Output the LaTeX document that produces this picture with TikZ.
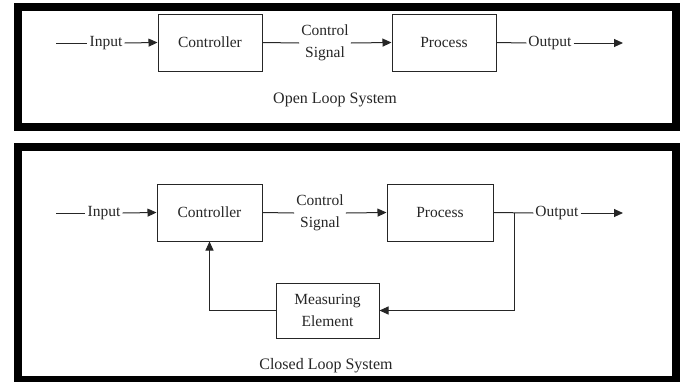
\documentclass[tikz,border=0pt]{standalone}
\usepackage{fontspec}
\setmainfont{Liberation Serif}
\usetikzlibrary{arrows.meta}
\begin{document}
\begin{tikzpicture}[x=1pt,y=-1pt,
  frame/.style={draw=black,line width=8pt},
  blk/.style={draw=black!85,line width=1pt,minimum width=#1,minimum height=57pt,inner sep=0pt,font=\fontsize{15.5}{22}\selectfont,text=black!85},
  lbl/.style={inner sep=2pt,font=\fontsize{15.5}{22}\selectfont,text=black!85,align=center},
  ttl/.style={inner sep=1pt,font=\fontsize{16}{20}\selectfont,text=black!85},
  ln/.style={draw=black!85,line width=1pt},
  arr/.style={ln,-{Triangle[length=9pt,width=8pt]}}]
\useasboundingbox (0,0) rectangle (685,381);
\fill[white] (0,0) rectangle (685,381);
% frames
\draw[frame] (18,7) rectangle (676,127);
\draw[frame] (18,147) rectangle (676,380);
% open loop
\node[blk=104pt] (ctrlA) at (210,42.5) {Controller};
\node[blk=104pt] (procA) at (444,42.5) {Process};
\coordinate (inA) at (56,43);
\node[lbl] (inlA) at (106,43) {Input};
\node[lbl] (csA) at (325,43) {Control\\Signal};
\node[lbl] (outlA) at (550,43) {Output};
\coordinate (endA) at (623,43);
\draw[ln] (inA) -- (inlA.west);
\draw[arr] (inlA.east) -- (ctrlA.west);
\draw[ln] (ctrlA.east) -- (csA.west);
\draw[arr] (csA.east) -- (procA.west);
\draw[ln] (procA.east) -- (outlA.west);
\draw[arr] (outlA.east) -- (endA);
\node[ttl] (titleA) at (335,100) {Open Loop System};
% closed loop
\node[blk=105pt] (ctrlB) at (209.5,212.5) {Controller};
\node[blk=106pt] (procB) at (440,212.5) {Process};
\node[blk=103pt,minimum height=55pt,align=center] (measB) at (327.5,310.5) {Measuring\\Element};
\coordinate (inB) at (56,213);
\node[lbl] (inlB) at (104,213) {Input};
\node[lbl] (csB) at (320,213) {Control\\Signal};
\node[lbl] (outlB) at (557,213) {Output};
\coordinate (endB) at (623,213);
\coordinate (brB) at (514,213);
\draw[ln] (inB) -- (inlB.west);
\draw[arr] (inlB.east) -- (ctrlB.west);
\draw[ln] (ctrlB.east) -- (csB.west);
\draw[arr] (csB.east) -- (procB.west);
\draw[ln] (procB.east) -- (outlB.west);
\draw[arr] (outlB.east) -- (endB);
\draw[arr] (brB) |- (measB.east);
\draw[arr] (measB.west) -| (ctrlB.south);
\node[ttl] (titleB) at (326,366) {Closed Loop System};
\end{tikzpicture}
\end{document}
